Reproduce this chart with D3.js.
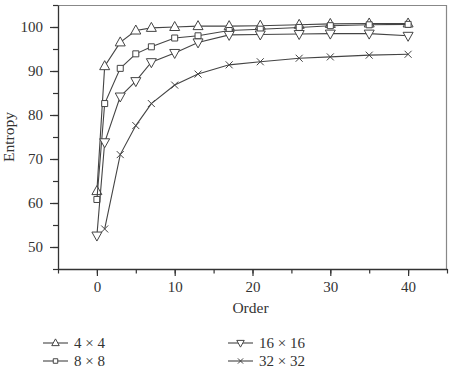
<!DOCTYPE html>
<html>
<head>
<meta charset="utf-8">
<script src="https://cdn.jsdelivr.net/npm/d3@7"></script>
<style>
    body { margin: 0; background: #fff; }
    text { font-family: "Liberation Serif", "DejaVu Serif", serif; fill: #333; }
</style>
</head>
<body>
<div id="chart"></div>
<script>
// chart values
var orders = [0, 1, 3, 5, 7, 10, 13, 17, 21, 26, 30, 35, 40];
var orders32 = [1, 3, 5, 7, 10, 13, 17, 21, 26, 30, 35, 40];

var entropy4 = [62.7, 91.1, 96.5, 99.2, 99.8, 100, 100.2, 100.2, 100.3, 100.5, 100.7, 100.8, 100.8];
var entropy8 = [60.8, 82.6, 90.6, 93.9, 95.5, 97.5, 98, 99.2, 99.5, 99.9, 100.3, 100.5, 100.6];
var entropy16 = [52.6, 73.8, 84.2, 87.7, 92, 94.1, 96.5, 98.2, 98.3, 98.4, 98.5, 98.5, 98.0];
var entropy32 = [54.1, 71, 77.6, 82.6, 86.8, 89.3, 91.4, 92.1, 92.9, 93.2, 93.6, 93.8];

var seriesNames = ['4 \u00d7 4', '8 \u00d7 8', '16 \u00d7 16', '32 \u00d7 32'];
var xTicks = [0, 10, 20, 30, 40];
var yTicks = [50, 60, 70, 80, 90, 100];

// ==========================================
// svg and chart group
var svgWidth = 450;
var svgHeight = 374;

var margin = { top: 5, right: 3, bottom: 105, left: 58 };
var width = svgWidth - margin.left - margin.right;
var height = svgHeight - margin.top - margin.bottom;

var ink = '#333';

var svg = d3.select('#chart')
    .append('svg')
    .attr('width', svgWidth)
    .attr('height', svgHeight);

var chartGroup = svg.append('g')
    .attr('transform', `translate(${margin.left}, ${margin.top})`);

// scales
var xScale = d3.scaleLinear().domain([-5, 45]).range([0, width]);
var yScale = d3.scaleLinear().domain([45, 105]).range([height, 0]);

// frame on top and right
chartGroup.append('path')
    .attr('d', `M0,0.5 H${width - 0.5} V${height}`)
    .attr('fill', 'none')
    .attr('stroke', '#888')
    .attr('stroke-width', 1.2);

// minor ticks first, then the labelled ones on top
var xMinor = chartGroup.append('g')
    .attr('transform', `translate(0, ${height})`)
    .call(d3.axisBottom(xScale).tickValues(d3.range(-5, 46, 5)).tickSize(4.5).tickFormat(''));
var yMinor = chartGroup.append('g')
    .call(d3.axisLeft(yScale).tickValues(d3.range(45, 106, 5)).tickSize(5).tickFormat(''));

var xAxis = chartGroup.append('g')
    .attr('transform', `translate(0, ${height})`)
    .call(d3.axisBottom(xScale).tickValues(xTicks).tickSize(7).tickSizeOuter(0).tickPadding(5));
var yAxis = chartGroup.append('g')
    .call(d3.axisLeft(yScale).tickValues(yTicks).tickSize(8).tickSizeOuter(0).tickPadding(7));

[xMinor, yMinor, xAxis, yAxis].forEach(a => {
    a.selectAll('path').attr('stroke', ink).attr('stroke-width', 1.3);
    a.selectAll('line').attr('stroke', ink).attr('stroke-width', 1.2);
    a.selectAll('text')
        .attr('font-family', '"Liberation Serif", serif')
        .attr('font-size', '15px')
        .attr('fill', ink);
});
xMinor.select('path').remove();
yMinor.select('path').remove();

// axis titles
chartGroup.append('text')
    .attr('x', width / 2 - 2)
    .attr('y', height + 44)
    .attr('text-anchor', 'middle')
    .attr('font-size', '15.5px')
    .text('Order');

svg.append('text')
    .attr('transform', `translate(14, ${margin.top + height / 2}) rotate(-90)`)
    .attr('text-anchor', 'middle')
    .attr('font-size', '15.5px')
    .text('Entropy');

// ==========================================
// markers
function markerPath(kind, k) {
    switch (kind) {
        case 'up':
            return `M0,${-5.5 * k} L${5 * k},${3.5 * k} L${-5 * k},${3.5 * k} Z`;
        case 'square':
            return `M${-3 * k},${-3 * k} h${6 * k} v${6 * k} h${-6 * k} Z`;
        case 'down':
            return `M0,${5.5 * k} L${5 * k},${-3.5 * k} L${-5 * k},${-3.5 * k} Z`;
        case 'x':
            return `M${-3.5 * k},${-3.5 * k} L${3.5 * k},${3.5 * k} M${-3.5 * k},${3.5 * k} L${3.5 * k},${-3.5 * k}`;
    }
}

var series = [
    { name: seriesNames[0], xs: orders, ys: entropy4, kind: 'up' },
    { name: seriesNames[1], xs: orders, ys: entropy8, kind: 'square' },
    { name: seriesNames[2], xs: orders, ys: entropy16, kind: 'down' },
    { name: seriesNames[3], xs: orders32, ys: entropy32, kind: 'x' }
];

var line = d3.line()
    .x(d => xScale(d[0]))
    .y(d => yScale(d[1]));

series.forEach(s => {
    var pts = s.xs.map((x, i) => [x, s.ys[i]]);

    chartGroup.append('path')
        .datum(pts)
        .attr('d', line)
        .attr('fill', 'none')
        .attr('stroke', '#444')
        .attr('stroke-width', 1.1);

    chartGroup.selectAll(null)
        .data(pts)
        .enter()
        .append('path')
        .attr('transform', d => `translate(${xScale(d[0])}, ${yScale(d[1])})`)
        .attr('d', markerPath(s.kind, 1))
        .attr('fill', s.kind === 'x' ? 'none' : '#fff')
        .attr('stroke', '#444')
        .attr('stroke-width', 1);
});

// ==========================================
// legend, two columns
var legendPos = [[43, 343], [43, 361], [228, 343], [228, 361]];

series.forEach((s, i) => {
    var g = svg.append('g')
        .attr('transform', `translate(${legendPos[i][0]}, ${legendPos[i][1]})`);

    g.append('line')
        .attr('x1', 0).attr('x2', 25)
        .attr('y1', 0).attr('y2', 0)
        .attr('stroke', '#444')
        .attr('stroke-width', 1.1);

    g.append('path')
        .attr('transform', 'translate(12.5, 0)')
        .attr('d', markerPath(s.kind, 0.75))
        .attr('fill', s.kind === 'x' ? 'none' : '#fff')
        .attr('stroke', '#444')
        .attr('stroke-width', 1);

    g.append('text')
        .attr('x', 31)
        .attr('y', 5)
        .attr('font-size', '15px')
        .text(s.name);
});
</script>
</body>
</html>
